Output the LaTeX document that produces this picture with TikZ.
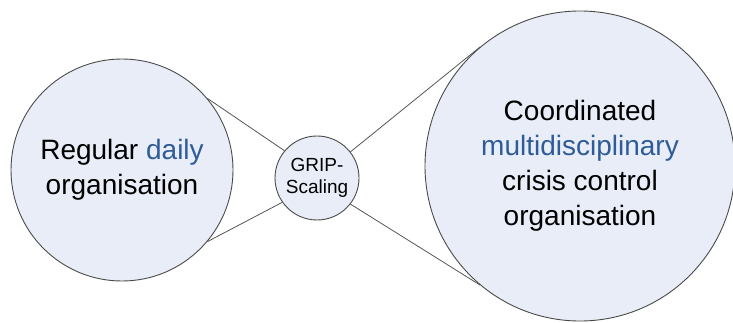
\documentclass[tikz,border=0pt]{standalone}
\usepackage{fontspec}
\setmainfont{Liberation Sans}
\definecolor{bubblefill}{HTML}{E8EDF7}
\definecolor{bubbleedge}{HTML}{4A4A4A}
\definecolor{linkgray}{HTML}{555555}
\definecolor{accentblue}{HTML}{2F5C98}
\begin{document}
\begin{tikzpicture}[x=1pt,y=-1pt,
  bubble/.style={circle, draw=bubbleedge, line width=0.9pt, fill=bubblefill,
                 inner sep=0pt, align=center, text=black},
  bigtext/.style={font=\fontsize{28}{35}\selectfont},
  smalltext/.style={font=\fontsize{19}{22.5}\selectfont},
  link/.style={draw=linkgray, line width=0.8pt}]
  \useasboundingbox (0,0) rectangle (733,323);

  % the two organisations and the scaling step between them
  \node[bubble, bigtext, minimum size=222pt] (daily) at (122,170)
    {Regular \textcolor{accentblue}{daily}\\organisation};
  \node[bubble, smalltext, minimum size=84pt] (grip) at (317,178)
    {GRIP-\\Scaling};
  \node[bubble, bigtext, minimum size=310pt] (crisis) at (580,166)
    {Coordinated\\\textcolor{accentblue}{multidisciplinary}\\crisis control\\organisation};

  % funnel lines
  \draw[link] (daily.40) -- (grip.140);
  \draw[link] (daily.-40) -- (grip.-145);
  \draw[link] (grip.38) -- (crisis.130);
  \draw[link] (grip.-38) -- (crisis.-130);
\end{tikzpicture}
\end{document}
